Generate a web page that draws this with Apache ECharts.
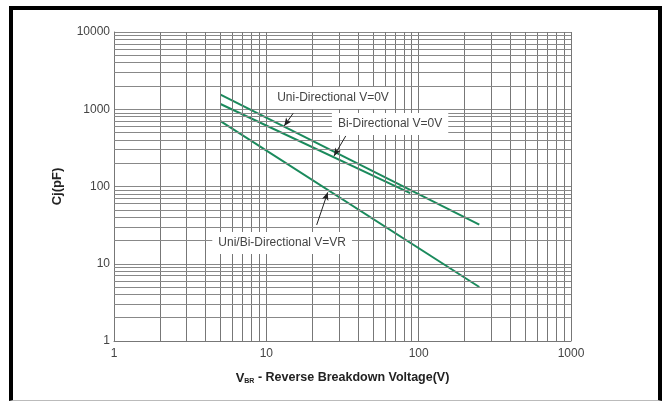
<!DOCTYPE html>
<html>
<head>
<meta charset="utf-8">
<script src="https://cdn.jsdelivr.net/npm/echarts@6/dist/echarts.min.js"></script>
<style>
  html, body { margin: 0; padding: 0; background: #fff; }
  #frame { position: absolute; left: 9px; top: 6px; width: 653px; height: 395px;
           border-left: 4px solid #000; border-top: 4px solid #000; border-right: 4px solid #000;
           border-bottom: 1px solid #bbb; box-sizing: border-box; }
  #chart { position: absolute; left: 0; top: 0; width: 669px; height: 401px; }
</style>
</head>
<body>
<div id="frame"></div>
<div id="chart"></div>
<script>
// ---- data ----
const xTicks = [1, 10, 100, 1000];
const yTicks = [1, 10, 100, 1000, 10000];
const minorX = [2,3,4,5,6,7,8,9,20,30,40,50,60,70,80,90,200,300,400,500,600,700,800,900];
const minorY = [2,3,4,5,6,7,8,9,20,30,40,50,60,70,80,90,200,300,400,500,600,700,800,900,2000,3000,4000,5000,6000,7000,8000,9000];

const uniV  = [5, 250];
const uniC  = [1550, 32];
const biV   = [5, 88];
const biC   = [1170, 82];
const vrV   = [5, 250];
const vrC   = [700, 5];

const labelUni = 'Uni-Directional V=0V';
const labelBi  = 'Bi-Directional V=0V';
const labelVR  = 'Uni/Bi-Directional V=VR';
const labelUniAt = [27.4, 1400];
const labelBiAt  = [64.9, 644];
const labelVRAt  = [12.7, 18.6];
const arrowUni = [[15.0, 887], [13.1, 607]];
const arrowBi  = [[33.2, 451], [27.8, 248]];
const arrowVR  = [[21.4, 31.8], [25.3, 84]];

const FONT = "'Liberation Sans', Arial, sans-serif";
const GREEN = '#1a8a5c';

function pairs(xs, ys) { return xs.map((x, i) => [x, ys[i]]); }

function textPoint(coord, text) {
  return {
    coord: coord,
    symbol: 'circle', symbolSize: 1,
    itemStyle: { color: 'rgba(0,0,0,0)' },
    label: {
      show: true, position: 'inside', formatter: text,
      color: '#444', fontFamily: FONT, fontSize: 12,
      backgroundColor: '#fff', padding: [5, 6]
    }
  };
}
function arrow(a) {
  return [{ coord: a[0] }, { coord: a[1] }];
}

const chart = echarts.init(document.getElementById('chart'), null, { renderer: 'canvas' });
const option = {
  animation: false,
  backgroundColor: 'transparent',
  grid: { left: 114, right: 98, top: 32, bottom: 60 },
  xAxis: {
    type: 'log', logBase: 10, min: xTicks[0], max: xTicks[xTicks.length - 1],
    name: '{v|V}{sub|BR}{t| - Reverse Breakdown Voltage(V)}',
    nameLocation: 'middle', nameGap: 30,
    nameTextStyle: {
      rich: {
        v:   { fontFamily: FONT, fontWeight: 'bold', fontSize: 13, color: '#222' },
        sub: { fontFamily: FONT, fontWeight: 'bold', fontSize: 7, color: '#222', verticalAlign: 'bottom', padding: [7, 0, 0, 0] },
        t:   { fontFamily: FONT, fontWeight: 'bold', fontSize: 12.5, color: '#222' }
      }
    },
    axisLine: { show: true, lineStyle: { color: '#777', width: 1 } },
    axisTick: { show: false },
    axisLabel: { color: '#444', fontFamily: FONT, fontSize: 12, margin: 7, formatter: v => String(v) },
    splitLine: { show: true, lineStyle: { color: '#777', width: 1 } }
  },
  yAxis: {
    type: 'log', logBase: 10, min: yTicks[0], max: yTicks[yTicks.length - 1],
    name: 'Cj(pF)', nameLocation: 'middle', nameGap: 50,
    nameTextStyle: { fontFamily: FONT, fontWeight: 'bold', fontSize: 13, color: '#222' },
    axisLine: { show: true, lineStyle: { color: '#777', width: 1 } },
    axisTick: { show: false },
    axisLabel: { color: '#444', fontFamily: FONT, fontSize: 12, margin: 4, formatter: v => String(v) },
    splitLine: { show: true, lineStyle: { color: '#888', width: 1 } }
  },
  series: [
    {
      type: 'line', data: [], silent: true,
      markLine: {
        silent: true, symbol: ['none', 'none'], animation: false,
        label: { show: false },
        lineStyle: { color: '#888', width: 1, type: 'solid' },
        data: minorX.map(v => ({ xAxis: v, lineStyle: { color: '#777' } }))
              .concat(minorY.map(v => ({ yAxis: v })))
      }
    },
    {
      type: 'line', name: labelUni, data: pairs(uniV, uniC),
      showSymbol: false, lineStyle: { color: GREEN, width: 2 }, itemStyle: { color: GREEN }, z: 3
    },
    {
      type: 'line', name: labelBi, data: pairs(biV, biC),
      showSymbol: false, lineStyle: { color: GREEN, width: 2 }, itemStyle: { color: GREEN }, z: 3
    },
    {
      type: 'line', name: labelVR, data: pairs(vrV, vrC),
      showSymbol: false, lineStyle: { color: GREEN, width: 2 }, itemStyle: { color: GREEN }, z: 3
    },
    {
      type: 'line', data: [], silent: true, z: 5,
      markLine: {
        silent: true, symbol: ['none', 'arrow'], symbolSize: [5, 8], animation: false,
        label: { show: false },
        lineStyle: { color: '#222', width: 1, type: 'solid' },
        data: [arrow(arrowUni), arrow(arrowBi), arrow(arrowVR)]
      },
      markPoint: {
        silent: true, animation: false,
        data: [textPoint(labelUniAt, labelUni), textPoint(labelBiAt, labelBi), textPoint(labelVRAt, labelVR)]
      }
    }
  ]
};
chart.setOption(option);
</script>
</body>
</html>
